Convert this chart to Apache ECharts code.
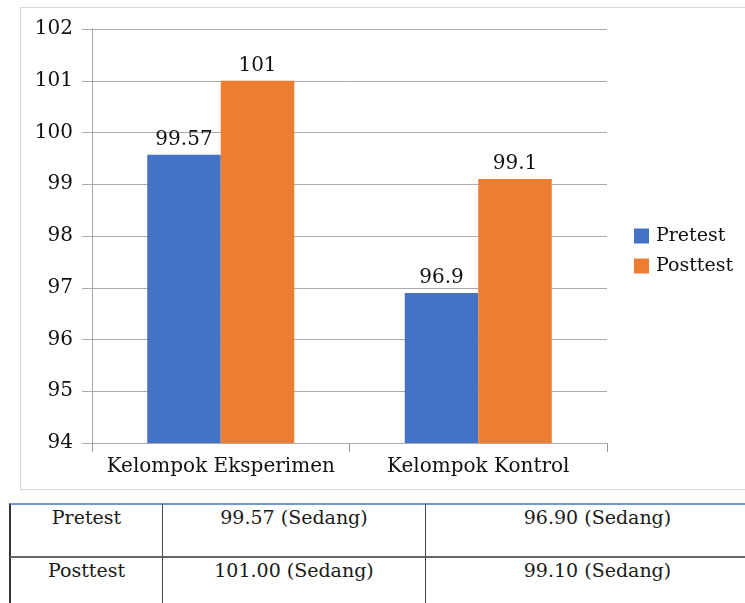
<!DOCTYPE html>
<html>
<head>
<meta charset="utf-8">
<script src="https://cdn.jsdelivr.net/npm/echarts@6/dist/echarts.min.js"></script>
<style>
  html, body { margin: 0; padding: 0; background: #fff; }
  body { width: 745px; height: 603px; position: relative; overflow: hidden; font-family: "DejaVu Serif", serif; }
  #box { position: absolute; left: 20px; top: 7px; width: 760px; height: 483px; border: 1px solid #d9d9d9; box-sizing: border-box; }
  #chart { position: absolute; left: 0; top: 0; width: 745px; height: 500px; }
  #tbl { position: absolute; left: 9px; top: 503px; }
  .cell { position: absolute; box-sizing: border-box; text-align: center; font-size: 19px; color: #1a1a1a; padding-top: 1px; line-height: 22px; }
</style>
</head>
<body>
<div id="box"></div>
<div id="chart"></div>
<div id="tbl"></div>
<script>
const categories = ["Kelompok Eksperimen", "Kelompok Kontrol"];
const seriesNames = ["Pretest", "Posttest"];
const pretest = [99.57, 96.9];
const posttest = [101, 99.1];
const yTicks = { min: 94, max: 102, interval: 1 };
const tableRows = [
  ["Pretest", "99.57 (Sedang)", "96.90 (Sedang)"],
  ["Posttest", "101.00 (Sedang)", "99.10 (Sedang)"]
];

const font = "DejaVu Serif";
const txt = "#111";
const gridCol = "#aaaaaa";

const chart = echarts.init(document.getElementById("chart"), null, { renderer: "canvas" });
chart.setOption({
  animation: false,
  color: ["#4472C4", "#ED7D31"],
  grid: { left: 92, top: 29, width: 515, height: 414 },
  legend: {
    orient: "vertical",
    left: 629,
    top: 221,
    icon: "rect",
    itemWidth: 15,
    itemHeight: 15,
    itemGap: 10,
    data: seriesNames,
    textStyle: { fontFamily: font, fontSize: 19, color: txt, lineHeight: 20, padding: [0, 0, 0, 2] }
  },
  xAxis: {
    type: "category",
    data: categories,
    axisLine: { show: true, lineStyle: { color: gridCol, width: 1 } },
    axisTick: { show: true, length: 9, interval: 0, alignWithLabel: false, lineStyle: { color: "#999", width: 1 } },
    axisLabel: { interval: 0, hideOverlap: false, fontFamily: font, fontSize: 20, color: txt, margin: 14 }
  },
  yAxis: {
    type: "value",
    min: yTicks.min,
    max: yTicks.max,
    interval: yTicks.interval,
    axisLine: { show: true, lineStyle: { color: gridCol, width: 1 } },
    axisTick: { show: true, length: 10, lineStyle: { color: gridCol } },
    splitLine: { show: true, lineStyle: { color: gridCol, width: 1 } },
    axisLabel: { fontFamily: font, fontSize: 20, color: txt, margin: 19 }
  },
  series: [
    {
      name: seriesNames[0], type: "bar", data: pretest, barWidth: 73.5, barGap: "0%",
      label: { show: true, position: "top", distance: 5, fontFamily: font, fontSize: 20, color: txt }
    },
    {
      name: seriesNames[1], type: "bar", data: posttest, barWidth: 73.5, barGap: "0%",
      label: { show: true, position: "top", distance: 5, fontFamily: font, fontSize: 20, color: txt }
    }
  ]
});

// table
const colX = [0, 153, 416, 760];
const rowY = [0, 53, 106];
const tbl = document.getElementById("tbl");
tableRows.forEach((row, r) => {
  row.forEach((t, c) => {
    const d = document.createElement("div");
    d.className = "cell";
    d.style.left = colX[c] + "px";
    d.style.top = rowY[r] + "px";
    d.style.width = (colX[c + 1] - colX[c]) + "px";
    d.style.height = (rowY[r + 1] - rowY[r]) + "px";
    d.style.borderLeft = c === 0 ? "2px solid #333" : "1.5px solid #444";
    d.style.borderTop = r === 0 ? "2px solid #6f98d6" : "2px solid #666";
    d.textContent = t;
    tbl.appendChild(d);
  });
});
</script>
</body>
</html>
